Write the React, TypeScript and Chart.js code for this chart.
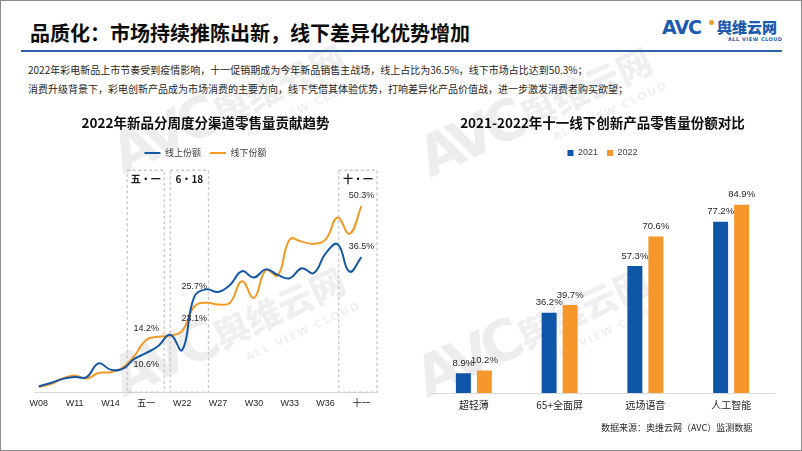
import React, { useEffect, useRef } from 'react';
import { Chart, registerables } from 'chart.js';

Chart.register(...registerables);

// ---------- data ----------
const tickLabels = ['W08', 'W11', 'W14', '五一', 'W22', 'W27', 'W30', 'W33', 'W36', '十一'];
const onlineShare = [1.6, 2.5, 3.6, 4.1, 4.1, 7.8, 6.1, 6.3, 9.0, 10.6, 12.5, 15.5, 11.4, 25.7, 27.8, 27.1, 29.0, 32.7, 31.0, 33.2, 31.7, 30.8, 33.5, 32.2, 37.5, 40.0, 32.6, 36.5];
const offlineShare = [1.4, 2.2, 3.7, 4.5, 3.7, 5.2, 5.4, 6.6, 9.8, 14.2, 15.0, 15.3, 16.6, 23.1, 24.2, 23.7, 24.2, 30.0, 25.5, 33.0, 31.6, 41.3, 40.7, 40.1, 41.3, 47.2, 42.8, 50.3];
const labeledPoints = [9, 13, 27];
const promoNames = ['五·一', '6·18', '十·一'];
const promoStart = [7.4, 11.0, 25.1];
const promoEnd = [10.5, 14.2, 28.3];

const barCategories = ['超轻薄', '65+全面屏', '远场语音', '人工智能'];
const share2021 = [8.9, 36.2, 57.3, 77.2];
const share2022 = [10.2, 39.7, 70.6, 84.9];

// ---------- styles ----------
const CJK = "'Noto Sans CJK SC', 'Noto Sans', sans-serif";
const LATIN = "'Liberation Sans', 'Noto Sans CJK SC', sans-serif";
const BLUE = '#1558a6';
const ORANGE = '#f39a26';
const TEXT = '#262626';
const WM = 'rgba(0,0,0,0.07)';

const promoBoxPlugin = {
  id: 'promoBoxes',
  beforeDatasetsDraw(chart: any) {
    const { ctx, scales } = chart;
    const x = scales.x, y = scales.y;
    const top = y.getPixelForValue(60);
    const bottom = y.getPixelForValue(0);
    ctx.save();
    promoNames.forEach((name, k) => {
      const x1 = x.getPixelForValue(promoStart[k]);
      const x2 = x.getPixelForValue(promoEnd[k]);
      ctx.strokeStyle = '#c8c8c8';
      ctx.lineWidth = 1.3;
      ctx.setLineDash([3, 2.5]);
      ctx.strokeRect(x1, top, x2 - x1, bottom - top);
      ctx.setLineDash([]);
      ctx.fillStyle = '#1a1a1a';
      ctx.font = `bold 10px ${CJK}`;
      ctx.textAlign = 'center';
      ctx.textBaseline = 'middle';
      ctx.fillText(name, (x1 + x2) / 2, top + 9);
    });
    ctx.restore();
  },
};

const lineLabelPlugin = {
  id: 'lineLabels',
  afterDatasetsDraw(chart: any) {
    const { ctx } = chart;
    ctx.save();
    ctx.font = `9px ${LATIN}`;
    ctx.fillStyle = TEXT;
    ctx.textAlign = 'center';
    ctx.textBaseline = 'middle';
    chart.data.datasets.forEach((ds: any, di: number) => {
      const meta = chart.getDatasetMeta(di);
      labeledPoints.forEach((idx, k) => {
        const pt = meta.data[idx];
        const v = ds.data[idx].y;
        const dy = ds.labelSides[k] === 'above' ? -11 : 12;
        ctx.fillText(v.toFixed(1) + '%', pt.x, pt.y + dy);
      });
    });
    ctx.restore();
  },
};

const barLabelPlugin = {
  id: 'barLabels',
  afterDatasetsDraw(chart: any) {
    const { ctx } = chart;
    ctx.save();
    ctx.font = `9.5px ${LATIN}`;
    ctx.fillStyle = TEXT;
    ctx.textAlign = 'center';
    ctx.textBaseline = 'middle';
    chart.data.datasets.forEach((ds: any, di: number) => {
      const meta = chart.getDatasetMeta(di);
      meta.data.forEach((bar: any, i: number) => {
        ctx.fillText(ds.data[i].toFixed(1) + '%', bar.x, bar.y - 10);
      });
    });
    ctx.restore();
  },
};

function Watermark({ x, y }: { x: number; y: number }) {
  return (
    <div
      style={{
        position: 'absolute',
        left: x,
        top: y,
        width: 0,
        height: 0,
        transform: 'rotate(-25deg)',
        transformOrigin: '0 0',
        pointerEvents: 'none',
      }}
    >
      <div style={{ position: 'absolute', left: 0, top: -50, fontFamily: "'DejaVu Sans', sans-serif", fontWeight: 900, fontSize: 56, lineHeight: '56px', letterSpacing: -6, color: WM, whiteSpace: 'nowrap' }}>AVC</div>
      <div style={{ position: 'absolute', left: 110, top: -38, fontFamily: CJK, fontWeight: 900, fontSize: 35, lineHeight: '35px', color: WM, whiteSpace: 'nowrap' }}>舆维云网</div>
      <div style={{ position: 'absolute', left: 129, top: 7, fontFamily: "'DejaVu Sans', sans-serif", fontWeight: 700, fontSize: 11, lineHeight: '11px', letterSpacing: 1.5, color: WM, whiteSpace: 'nowrap' }}>ALL VIEW CLOUD</div>
    </div>
  );
}

export default function App() {
  const lineRef = useRef<HTMLCanvasElement>(null);
  const barRef = useRef<HTMLCanvasElement>(null);

  useEffect(() => {
    const lineChart = new Chart(lineRef.current as HTMLCanvasElement, {
      type: 'line',
      data: {
        datasets: [
          {
            label: '线上份额',
            data: onlineShare.map((v, i) => ({ x: i, y: v })),
            borderColor: BLUE,
            backgroundColor: BLUE,
            borderWidth: 2,
            tension: 0.45,
            pointRadius: 0,
            fill: false,
            labelSides: ['below', 'above', 'above'],
          } as any,
          {
            label: '线下份额',
            data: offlineShare.map((v, i) => ({ x: i, y: v })),
            borderColor: ORANGE,
            backgroundColor: ORANGE,
            borderWidth: 2,
            tension: 0.45,
            pointRadius: 0,
            fill: false,
            labelSides: ['above', 'below', 'above'],
          } as any,
        ],
      },
      options: {
        animation: false,
        responsive: false,
        maintainAspectRatio: false,
        layout: { padding: { left: 33, right: 24, top: 0, bottom: 16 } },
        plugins: {
          title: {
            display: true,
            text: '2022年新品分周度分渠道零售量贡献趋势',
            color: '#0d0d0d',
            font: { size: 13.5, weight: 'bold', family: CJK },
            padding: { top: 14, bottom: 8.3 },
          },
          legend: {
            labels: {
              usePointStyle: true,
              pointStyle: 'line',
              pointStyleWidth: 16,
              boxWidth: 16,
              padding: 9,
              color: '#404040',
              font: { size: 9, family: CJK },
            },
          },
          tooltip: { enabled: false },
        },
        scales: {
          x: {
            type: 'linear',
            min: -0.4,
            max: 28.3,
            grid: { display: false, drawTicks: false },
            border: { display: true, color: '#d9d9d9', width: 1 },
            afterBuildTicks: (scale: any) => {
              scale.ticks = tickLabels.map((_, k) => ({ value: k * 3 }));
            },
            ticks: {
              autoSkip: false,
              maxRotation: 0,
              padding: 6,
              color: '#262626',
              font: { size: 9, family: LATIN },
              callback: (v: any) => tickLabels[Math.round(Number(v) / 3)],
            },
          },
          y: { display: false, min: 0, max: 60.74 },
        },
      },
      plugins: [promoBoxPlugin, lineLabelPlugin],
    } as any);

    const barChart = new Chart(barRef.current as HTMLCanvasElement, {
      type: 'bar',
      data: {
        labels: barCategories,
        datasets: [
          { label: '2021', data: share2021, backgroundColor: '#0f56a8', categoryPercentage: 0.49, barPercentage: 0.714 },
          { label: '2022', data: share2022, backgroundColor: '#f5972a', categoryPercentage: 0.49, barPercentage: 0.714 },
        ],
      },
      options: {
        animation: false,
        responsive: false,
        maintainAspectRatio: false,
        layout: { padding: { left: 30, right: 29, top: 0, bottom: 14 } },
        plugins: {
          title: {
            display: true,
            text: '2021-2022年十一线下创新产品零售量份额对比',
            color: '#0d0d0d',
            font: { size: 13.5, weight: 'bold', family: CJK },
            padding: { top: 14, bottom: 8.3 },
          },
          legend: {
            labels: {
              boxWidth: 6,
              boxHeight: 6,
              padding: 9,
              color: '#404040',
              font: { size: 9, family: LATIN },
            },
          },
          tooltip: { enabled: false },
        },
        scales: {
          x: {
            grid: { display: false, drawTicks: false },
            border: { display: true, color: '#d9d9d9', width: 1 },
            ticks: { padding: 6, color: '#262626', font: { size: 10, family: CJK } },
          },
          y: { display: false, min: 0, max: 101.7 },
        },
      },
      plugins: [barLabelPlugin],
    } as any);

    return () => {
      lineChart.destroy();
      barChart.destroy();
    };
  }, []);

  return (
    <div
      style={{
        position: 'fixed',
        left: 0,
        top: 0,
        width: 802,
        height: 451,
        boxSizing: 'border-box',
        border: '1px solid #8c8c8c',
        background: '#ffffff',
        overflow: 'hidden',
        fontFamily: CJK,
      }}
    >
      <Watermark x={123} y={400} />
      <Watermark x={427} y={400} />
      <Watermark x={123} y={177} />
      <Watermark x={430} y={180} />

      <div style={{ position: 'absolute', left: 29, top: 19, fontSize: 20, lineHeight: '26px', fontWeight: 700, color: '#0d0d0d', whiteSpace: 'nowrap' }}>
        品质化：市场持续推陈出新，线下差异化优势增加
      </div>
      <div style={{ position: 'absolute', left: 20, top: 49, width: 761, height: 2, background: '#2e62a8' }} />

      {/* logo */}
      <div style={{ position: 'absolute', left: 661, top: 16, fontFamily: "'DejaVu Sans', sans-serif", fontWeight: 900, fontSize: 19, lineHeight: '20px', letterSpacing: -1, color: '#1d5bb0', whiteSpace: 'nowrap' }}>AVC</div>
      <div style={{ position: 'absolute', left: 708, top: 19, width: 5, height: 5, borderRadius: 3, background: '#f39a26' }} />
      <div style={{ position: 'absolute', left: 716, top: 17, fontSize: 15, lineHeight: '18px', fontWeight: 900, color: '#1d5bb0', whiteSpace: 'nowrap' }}>舆维云网</div>
      <div style={{ position: 'absolute', left: 727, top: 35, fontFamily: "'DejaVu Sans', sans-serif", fontSize: 5, lineHeight: '6px', fontWeight: 700, letterSpacing: 0.5, color: '#1d5bb0', whiteSpace: 'nowrap' }}>ALL VIEW CLOUD</div>

      <div style={{ position: 'absolute', left: 27, top: 62, fontSize: 10, lineHeight: '14px', color: TEXT, whiteSpace: 'nowrap' }}>
        2022年彩电新品上市节奏受到疫情影响，十一促销期成为今年新品销售主战场，线上占比为36.5%，线下市场占比达到50.3%；
      </div>
      <div style={{ position: 'absolute', left: 27, top: 81, fontSize: 10, lineHeight: '14px', color: TEXT, whiteSpace: 'nowrap' }}>
        消费升级背景下，彩电创新产品成为市场消费的主要方向，线下凭借其体验优势，打响差异化产品价值战，进一步激发消费者购买欲望；
      </div>

      <canvas ref={lineRef} width={400} height={330} style={{ position: 'absolute', left: 0, top: 100, width: 400, height: 330 }} />
      <canvas ref={barRef} width={402} height={330} style={{ position: 'absolute', left: 400, top: 100, width: 402, height: 330 }} />

      <div style={{ position: 'absolute', left: 600, top: 421, fontSize: 9, lineHeight: '12px', color: TEXT, whiteSpace: 'nowrap' }}>
        数据来源：奥维云网（AVC）监测数据
      </div>
    </div>
  );
}
